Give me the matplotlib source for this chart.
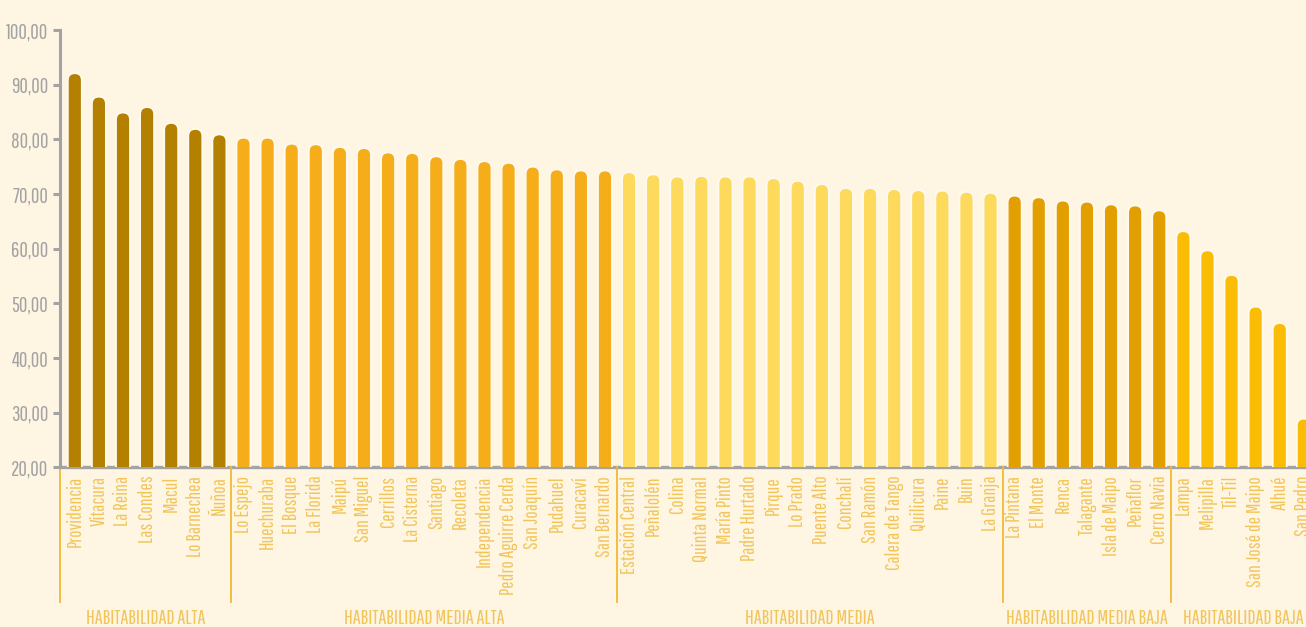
import matplotlib
matplotlib.use("Agg")
import matplotlib.pyplot as plt
from matplotlib.patches import FancyBboxPatch
import matplotlib.transforms as mtransforms

comunas = ["Providencia", "Vitacura", "La Reina", "Las Condes", "Macul", "Lo Barnechea", "Ñuñoa",
           "Lo Espejo", "Huechuraba", "El Bosque", "La Florida", "Maipú", "San Miguel", "Cerrillos",
           "La Cisterna", "Santiago", "Recoleta", "Independencia", "Pedro Aguirre Cerda", "San Joaquín",
           "Pudahuel", "Curacaví", "San Bernardo",
           "Estación Central", "Peñalolén", "Colina", "Quinta Normal", "María Pinto", "Padre Hurtado",
           "Pirque", "Lo Prado", "Puente Alto", "Conchalí", "San Ramón", "Calera de Tango", "Quilicura",
           "Paine", "Buin", "La Granja",
           "La Pintana", "El Monte", "Renca", "Talagante", "Isla de Maipo", "Peñaflor", "Cerro Navia",
           "Lampa", "Melipilla", "Til-Til", "San José de Maipo", "Alhué", "San Pedro"]
indice = [92.1, 87.8, 84.9, 85.9, 83.0, 81.9, 80.9,
          80.3, 80.3, 79.2, 79.1, 78.6, 78.4, 77.6, 77.5, 76.9, 76.4, 76.0, 75.7, 75.0, 74.5, 74.3, 74.3,
          74.0, 73.6, 73.2, 73.3, 73.2, 73.2, 72.9, 72.4, 71.8, 71.1, 71.1, 70.9, 70.7, 70.6, 70.4, 70.2,
          69.7, 69.4, 68.8, 68.6, 68.1, 67.9, 67.0,
          63.2, 59.7, 55.2, 49.4, 46.4, 28.9]
grupos = ["HABITABILIDAD ALTA", "HABITABILIDAD MEDIA ALTA", "HABITABILIDAD MEDIA",
          "HABITABILIDAD MEDIA BAJA", "HABITABILIDAD BAJA"]
grupo_n = [7, 16, 16, 7, 6]
grupo_color = ["#b38000", "#f5ae1a", "#fdd95c", "#e39e00", "#fbbc05"]
y_ticks = [20, 30, 40, 50, 60, 70, 80, 90, 100]

fondo = "#fef5e3"
gris = "#a3a3a3"
dorado = "#f2c55a"

plt.rcParams['font.family'] = ['Pathway Gothic One', 'DejaVu Sans']

fig = plt.figure(figsize=(13.06, 6.27), dpi=100)
fig.patch.set_facecolor(fondo)
ax = fig.add_axes([59.5 / 1306, 159.7 / 627, 1 - 59.5 / 1306, 437.3 / 627])
ax.set_facecolor(fondo)

x0 = -0.635
ax.set_xlim(x0, 51.09)
ax.set_ylim(20, 100)

# rounded bars: radius in x data units, stretched in y to stay circular on screen
ancho = 0.58
px_x = 24.09
px_y = 5.466
r = ancho / 2
aspecto = px_x / px_y

colores = []
for n, c in zip(grupo_n, grupo_color):
    colores += [c] * n

for i, (v, c) in enumerate(zip(indice, colores)):
    barra = FancyBboxPatch((i - ancho / 2, 5), ancho, v - 5,
                           boxstyle=f"round,pad=0,rounding_size={r}",
                           mutation_aspect=aspecto, facecolor=c, edgecolor="#fffaf0",
                           linewidth=1.3, zorder=3)
    ax.add_patch(barra)

for s in ["top", "right"]:
    ax.spines[s].set_visible(False)
ax.spines["left"].set_color(gris)
ax.spines["left"].set_linewidth(2.2)
ax.spines["bottom"].set_color(gris)
ax.spines["bottom"].set_linewidth(2.4)
ax.spines["bottom"].set_zorder(1)

ax.set_yticks(y_ticks)
ax.set_yticklabels([f"{t:.2f}".replace(".", ",") for t in y_ticks])
ax.tick_params(axis="y", colors=gris, length=5, width=2.2, labelsize=15, pad=3)
ax.set_xticks(range(len(comunas)))
ax.set_xticklabels(comunas, rotation=90, color=dorado, fontsize=14)
ax.tick_params(axis="x", length=0, pad=6)

# group separators and names under the labels
trans = mtransforms.blended_transform_factory(ax.transData, ax.transAxes)
bordes = [x0]
acum = 0
for n in grupo_n:
    acum += n
    bordes.append(acum - 0.5)
for b in bordes[:-1]:
    ax.plot([b, b], [0, -0.308], color="#eebb33", lw=1.3, transform=trans, clip_on=False)
for g, a, b in zip(grupos, bordes[:-1], bordes[1:]):
    ax.text((a + b) / 2, -0.345, g, transform=trans, ha="center", va="center",
            color=dorado, fontsize=14.5)

fig.savefig("out.png", dpi=100, facecolor=fondo)
